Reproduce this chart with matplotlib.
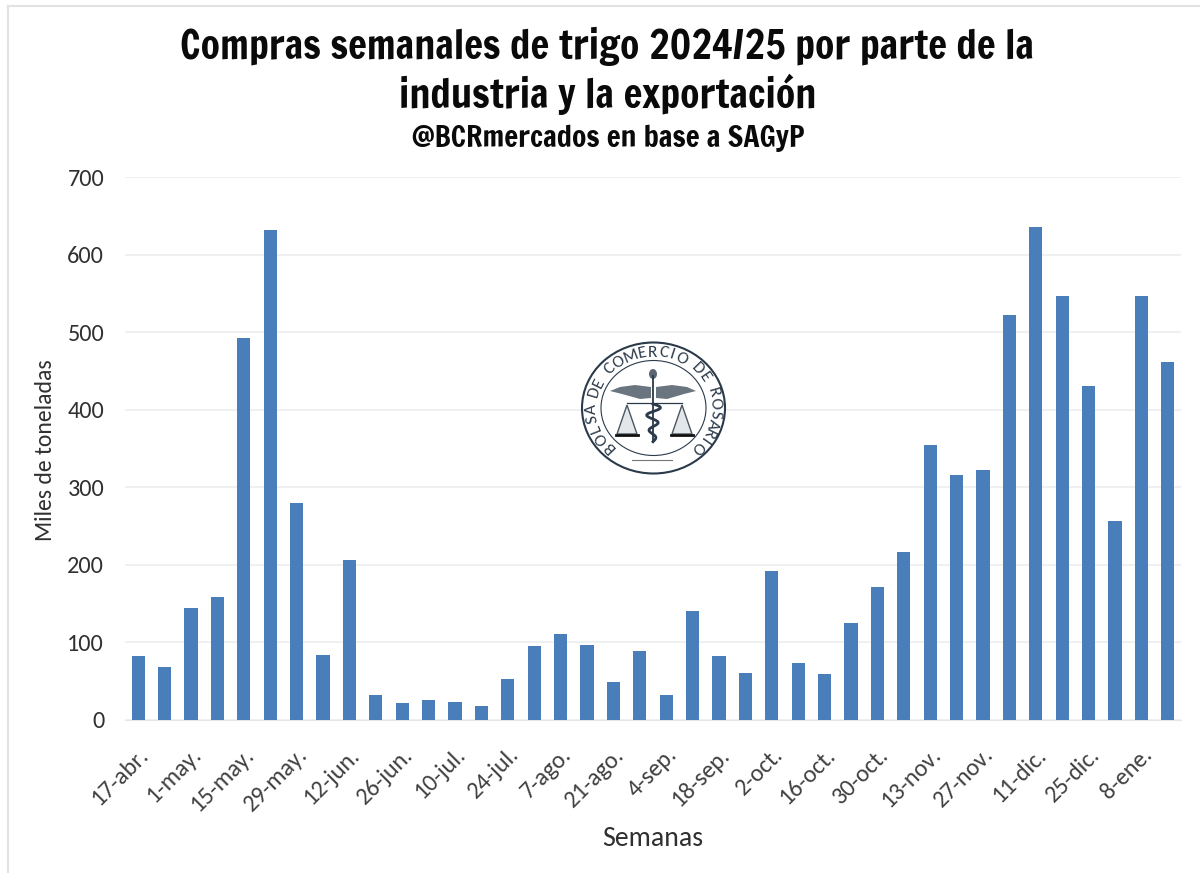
import numpy as np
import matplotlib
matplotlib.use("Agg")
import matplotlib.pyplot as plt
from matplotlib.patches import Polygon, Ellipse
from matplotlib.lines import Line2D
from matplotlib.transforms import ScaledTranslation

W, H = 1200, 873
weeks = list(range(40))
values = [82, 68, 145, 158, 493, 632, 280, 84, 206, 32, 22, 26, 23, 18, 53, 95, 111, 97, 49, 89,
          32, 141, 83, 60, 192, 73, 59, 125, 172, 216, 354, 316, 322, 522, 636, 546, 431, 256, 546, 462]
tick_labels = ["17-abr.", "1-may.", "15-may.", "29-may.", "12-jun.", "26-jun.", "10-jul.", "24-jul.",
               "7-ago.", "21-ago.", "4-sep.", "18-sep.", "2-oct.", "16-oct.", "30-oct.", "13-nov.",
               "27-nov.", "11-dic.", "25-dic.", "8-ene."]
y_ticks = [0, 100, 200, 300, 400, 500, 600, 700]

plt.rcParams['font.family'] = ['Carlito', 'Lato', 'DejaVu Sans']
fig = plt.figure(figsize=(W/100, H/100), dpi=100, facecolor='white')

def rect(l, t, r, b):
    return [l/W, 1-b/H, (r-l)/W, (b-t)/H]

fig.add_artist(Line2D([8/W, 8/W], [0, 1-6/H], transform=fig.transFigure, color='#e2e2e2', lw=1.5))
fig.add_artist(Line2D([8/W, 1], [1-6/H, 1-6/H], transform=fig.transFigure, color='#e2e2e2', lw=1.5))

ax = fig.add_axes(rect(125, 177, 1181, 720))
ax.bar(weeks, values, width=0.5, color='#4A7EBB', zorder=3)
ax.set_xlim(-0.5, 39.5)
ax.set_ylim(0, 700)
ax.set_yticks(y_ticks)
ax.set_xticks(weeks[::2])
ax.set_xticklabels(tick_labels, rotation=45, ha='right', rotation_mode='anchor',
                   fontsize=17.5, color='#404040')
shift = ScaledTranslation(-9/100, 0, fig.dpi_scale_trans)
for lab in ax.get_xticklabels():
    lab.set_transform(lab.get_transform() + shift)
ax.tick_params(axis='y', length=0, labelsize=17.5, labelcolor='#303030', pad=15)
ax.tick_params(axis='x', length=0, pad=17)
ax.grid(axis='y', color='#eceef0', lw=1.2, zorder=0)
ax.set_axisbelow(True)
for s in ['top', 'right', 'left']:
    ax.spines[s].set_visible(False)
ax.spines['bottom'].set_color('#e6e6e6')
ax.patch.set_alpha(0)

fig.text(46/W, 1-450/H, "Miles de toneladas", rotation=90, ha='center', va='center',
         fontsize=17, color='#303030')
fig.text(653/W, 1-839/H, "Semanas", ha='center', va='center', fontsize=20, color='#303030')

title_fonts = ['Francois One', 'Fira Sans Condensed', 'Liberation Sans']
fig.text(607.5/W, 1-46/H, "Compras semanales de trigo 2024/25 por parte de la", ha='center', va='center',
         fontsize=28.3, fontweight='bold', family=title_fonts, color='#0a0a0a')
fig.text(607.5/W, 1-94/H, "industria y la exportación", ha='center', va='center',
         fontsize=28.3, fontweight='bold', family=title_fonts, color='#0a0a0a')
fig.text(608/W, 1-138/H, "@BCRmercados en base a SAGyP", ha='center', va='center',
         fontsize=21.2, fontweight='bold', family=title_fonts, color='#0a0a0a')

# Logo seal, drawn in its own pixel-space overlay
logo = fig.add_axes([0, 0, 1, 1], zorder=5)
logo.set_xlim(0, W)
logo.set_ylim(H, 0)
logo.axis('off')
logo.patch.set_alpha(0)
cx, cy, Rx, Ry = 653.5, 408, 71.5, 65.5
ink = '#2b3a4a'
logo.add_patch(Ellipse((cx, cy), 2*Rx, 2*Ry, fc='white', ec=ink, lw=1.5))
logo.add_patch(Ellipse((cx, cy), 2*(Rx-19), 2*(Ry-18), fc='white', ec=ink, lw=0.8))
text = "BOLSA DE COMERCIO DE ROSARIO"
adv = np.array([0.75 if c == ' ' else 0.6 if c == 'I' else 1.2 if c in 'MO' else 1.0 for c in text])
pos = np.cumsum(adv) - adv/2
angles = -134 + 268*(pos-pos[0])/(pos[-1]-pos[0])
for ch, a in zip(text, angles):
    t = np.radians(a)
    logo.text(cx + (Rx-10)*np.sin(t), cy - (Ry-10)*np.cos(t), ch, rotation=-a,
              rotation_mode='anchor', ha='center', va='center', fontsize=12.5, color=ink)
# wings
logo.add_patch(Polygon([(651, 387), (635, 385), (620, 387), (610, 391), (622, 394), (640, 399), (651, 398)],
                       fc='#6a7580', ec='none'))
logo.add_patch(Polygon([(656, 387), (672, 385), (687, 387), (696, 391), (684, 394), (667, 399), (656, 398)],
                       fc='#6a7580', ec='none'))
logo.add_patch(Ellipse((653, 374), 8, 10, fc='#5a6672', ec='none'))
# staff and serpent
logo.plot([653, 653], [376, 442], color=ink, lw=1.3)
th = np.linspace(0, 5*np.pi, 80)
logo.plot(653 + 8*np.sin(th)*(1-th/(7*np.pi)), 404 + th*2.4, color=ink, lw=2.0)
# scales
logo.plot([627, 682], [403, 403], color=ink, lw=0.9)
for sx in (627, 682):
    logo.add_patch(Polygon([(sx, 405), (sx-10, 434), (sx+10, 434)], fc='#e4e7e9', ec='#4a5662', lw=1))
    logo.plot([sx-11, sx+11], [435, 435], color='#111111', lw=2.0)
logo.plot([632, 672], [460, 460], color='#777777', lw=0.8)

fig.savefig('out.png', dpi=100, facecolor='white')
